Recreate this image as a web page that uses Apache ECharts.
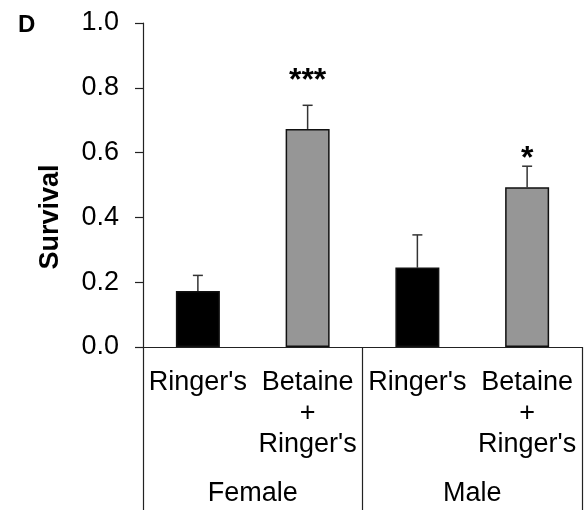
<!DOCTYPE html>
<html>
<head>
<meta charset="utf-8">
<script src="https://cdn.jsdelivr.net/npm/echarts@6/dist/echarts.min.js"></script>
<style>html,body{margin:0;padding:0;background:#fff}#c{width:584px;height:514px}</style>
</head>
<body>
<div id="c"></div>
<script>
// ---- data ----
var categories = ["Ringer's", "Betaine\n+\nRinger's", "Ringer's", "Betaine\n+\nRinger's"];
var groups = ["Female", "Male"];
var treatments = ["ringer", "betaine", "ringer", "betaine"];
var survival = [0.173, 0.673, 0.245, 0.493];
var errorUpper = [0.221, 0.746, 0.346, 0.558];
var significance = ["", "***", "", "*"];
var significanceLevel = [null, 0.82, null, 0.58];
var yTicks = [0, 0.2, 0.4, 0.6, 0.8, 1.0];

var FONT = "'Liberation Sans', Arial, sans-serif";
var colorMap = { ringer: "#000000", betaine: "#969696" };

var chart = echarts.init(document.getElementById('c'), null, { renderer: 'canvas' });
chart.setOption({
  animation: false,
  backgroundColor: '#fff',
  grid: { left: 143, right: 2, top: 23, bottom: 167, containLabel: false },
  xAxis: [{
    type: 'category',
    data: categories,
    position: 'bottom',
    axisLine: { show: true, lineStyle: { color: '#222', width: 1.2 } },
    axisTick: { show: false },
    axisLabel: { interval: 0, color: '#000', fontFamily: FONT, fontSize: 27, lineHeight: 31, margin: 20 }
  }, {
    type: 'category',
    data: groups,
    position: 'bottom',
    axisLine: { show: false },
    axisTick: { show: true, length: 163, interval: 0, lineStyle: { color: '#222', width: 1.2 } },
    axisLabel: { interval: 0, color: '#000', fontFamily: FONT, fontSize: 27, lineHeight: 31, margin: 131 }
  }],
  yAxis: {
    type: 'value',
    min: yTicks[0], max: yTicks[yTicks.length - 1], interval: 0.2,
    splitLine: { show: false },
    axisLine: { show: true, lineStyle: { color: '#222', width: 1.2 } },
    axisTick: { show: true, length: 8, lineStyle: { color: '#222', width: 1.2 } },
    axisLabel: { color: '#000', fontFamily: FONT, fontSize: 27, margin: 24,
      formatter: function (v) { return v.toFixed(1); } }
  },
  graphic: [
    { type: 'text', left: 18, top: 13, style: { text: 'D', font: 'bold 24px ' + FONT, fill: '#000' } },
    { type: 'text', x: 51, y: 217, rotation: Math.PI / 2,
      style: { text: 'Survival', font: 'bold 27px ' + FONT, fill: '#000', align: 'center', verticalAlign: 'middle' } }
  ],
  series: [{
    type: 'bar',
    xAxisIndex: 0,
    barWidth: 44,
    data: survival.map(function (v, i) {
      return { value: v, itemStyle: { color: colorMap[treatments[i]], borderColor: '#111', borderWidth: 1.5 } };
    })
  }, {
    type: 'custom',
    xAxisIndex: 0,
    data: survival.map(function (v, i) { return [i, v, errorUpper[i]]; }),
    renderItem: function (params, api) {
      var base = api.coord([api.value(0), api.value(1)]);
      var top = api.coord([api.value(0), api.value(2)]);
      var hw = 5;
      return {
        type: 'group',
        children: [
          { type: 'line', shape: { x1: base[0], y1: base[1], x2: top[0], y2: top[1] }, style: { stroke: '#333', lineWidth: 1.5 } },
          { type: 'line', shape: { x1: top[0] - hw, y1: top[1], x2: top[0] + hw, y2: top[1] }, style: { stroke: '#333', lineWidth: 1.5 } }
        ]
      };
    },
    z: 1
  }, {
    type: 'custom',
    xAxisIndex: 0,
    data: significance.map(function (s, i) { return [i, significanceLevel[i] == null ? 0 : significanceLevel[i], s]; }),
    renderItem: function (params, api) {
      var s = significance[params.dataIndex];
      if (!s) return null;
      var p = api.coord([api.value(0), api.value(1)]);
      return { type: 'text', x: p[0], y: p[1],
        style: { text: s, font: 'bold 32px ' + FONT, fill: '#000', align: 'center', verticalAlign: 'middle' } };
    }
  }]
});
</script>
</body>
</html>
